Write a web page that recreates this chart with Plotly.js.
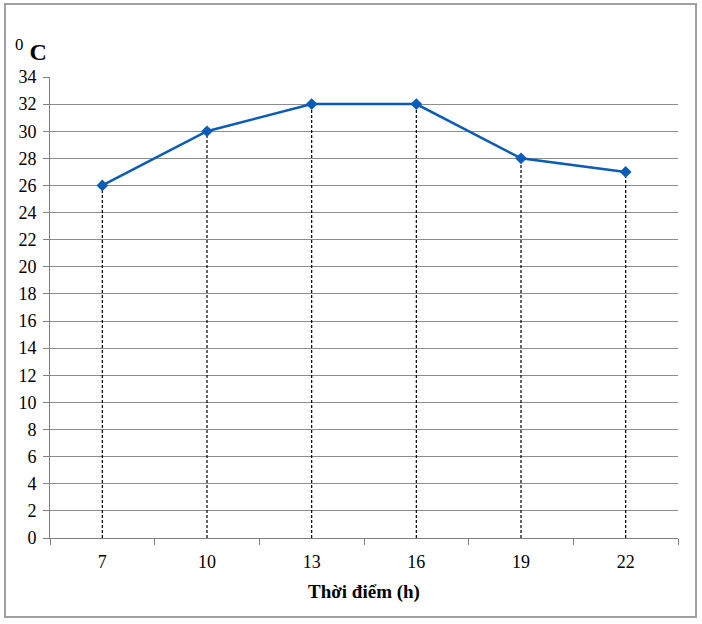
<!DOCTYPE html>
<html>
<head>
<meta charset="utf-8">
<script src="https://cdn.plot.ly/plotly-3.0.1.min.js"></script>
<style>
html,body{margin:0;padding:0;background:#fff;}
#chart{width:702px;height:624px;}
</style>
</head>
<body>
<div id="chart"></div>
<script>
const categories = ["7", "10", "13", "16", "19", "22"];
const temperatures = [26, 30, 32, 32, 28, 27];
const yTicks = [0,2,4,6,8,10,12,14,16,18,20,22,24,26,28,30,32,34];

const FONT = "'Liberation Serif', 'Times New Roman', serif";

const traces = [];
// dashed drop lines from each point to the axis
categories.forEach((c, i) => {
  traces.push({
    x: [c, c],
    y: [0, temperatures[i]],
    type: "scatter",
    mode: "lines",
    line: {color: "#000000", width: 1.2, dash: "3px,2px"},
    hoverinfo: "skip",
    showlegend: false
  });
});
traces.push({
  x: categories,
  y: temperatures,
  type: "scatter",
  mode: "lines+markers",
  line: {color: "#0a5cb8", width: 2.5},
  marker: {symbol: "diamond", size: 9, color: "#0a5cb8"},
  showlegend: false
});

const L = 50, R = 24, T = 77, B = 86;
const pw = 702 - L - R, ph = 624 - T - B;
const px = v => (v - L) / pw;
const py = v => (624 - B - v) / ph;

const layout = {
  width: 702, height: 624,
  margin: {l: L, r: R, t: T, b: B, pad: 0},
  paper_bgcolor: "#ffffff",
  plot_bgcolor: "#ffffff",
  font: {family: FONT, size: 18, color: "#000000"},
  xaxis: {
    type: "category",
    categoryorder: "array",
    categoryarray: categories,
    range: [-0.5, 5.5],
    tickson: "boundaries",
    ticks: "outside",
    ticklen: 6,
    tickcolor: "#808080",
    ticklabelstandoff: 7,
    showgrid: false,
    showline: true,
    linecolor: "#808080",
    linewidth: 1,
    zeroline: false,
    tickfont: {family: FONT, size: 18, color: "#000"},
    title: {text: "<b>Thời điểm (h)</b>", font: {family: FONT, size: 19, color: "#000"}, standoff: 14}
  },
  yaxis: {
    range: [0, 34],
    tickvals: yTicks,
    ticktext: yTicks.map(String),
    ticks: "outside",
    ticklen: 6,
    tickcolor: "#808080",
    ticklabelstandoff: 3,
    showgrid: true,
    gridcolor: "#8c8c8c",
    gridwidth: 1,
    showline: true,
    linecolor: "#808080",
    linewidth: 1,
    zeroline: false,
    tickfont: {family: FONT, size: 18, color: "#000"}
  },
  annotations: [
    {xref: "paper", yref: "paper", x: px(13), y: py(50), xanchor: "left", yanchor: "middle",
     text: "<sup>0</sup> <b>C</b>", showarrow: false,
     font: {family: FONT, size: 24, color: "#000"}}
  ],
  shapes: [
    {type: "rect", xref: "paper", yref: "paper", layer: "below",
     x0: px(5), x1: px(696), y0: py(617), y1: py(4),
     line: {color: "#a0a0a0", width: 2}, fillcolor: "rgba(0,0,0,0)"}
  ]
};

Plotly.newPlot("chart", traces, layout, {staticPlot: true, displayModeBar: false});
</script>
</body>
</html>
